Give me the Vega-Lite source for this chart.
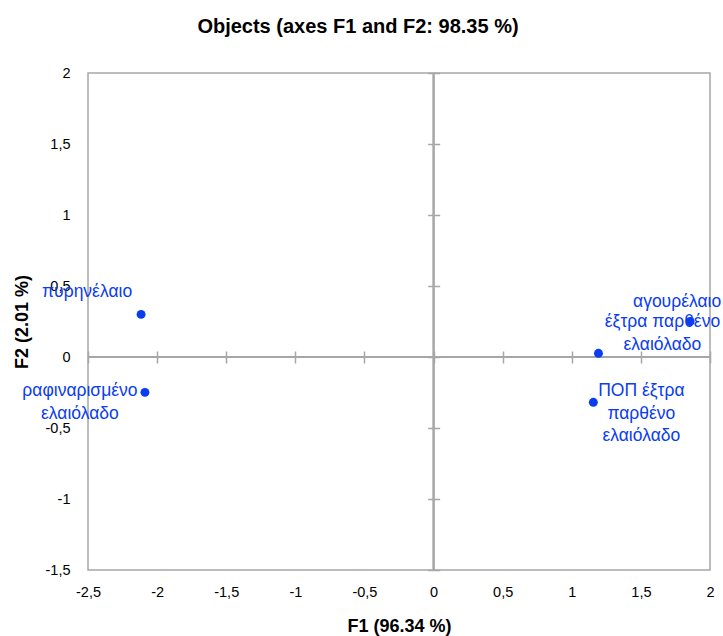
{
  "$schema": "https://vega.github.io/schema/vega-lite/v6.json",
  "autosize": "none",
  "width": 622,
  "height": 497,
  "padding": {"left": 88, "top": 73, "right": 13, "bottom": 66},
  "background": "white",
  "title": {
    "text": "Objects (axes F1 and F2: 98.35 %)",
    "font": "Liberation Sans",
    "fontSize": 20,
    "fontWeight": "bold",
    "color": "#000000",
    "anchor": "middle",
    "frame": "group",
    "dx": -41,
    "baseline": "alphabetic",
    "offset": 12
  },
  "config": {
    "view": {"stroke": "#a6a6a6", "strokeWidth": 1.5},
    "axis": {
      "labelFont": "Liberation Sans",
      "labelFontSize": 14.5,
      "labelColor": "#000000",
      "titleFont": "Liberation Sans",
      "titleFontSize": 18,
      "titleFontWeight": "bold",
      "titleColor": "#000000",
      "grid": false
    }
  },
  "data": {
    "values": [
      {"name": "πυρηνέλαιο", "label": "πυρηνέλαιο", "F1": -2.116, "F2": 0.30},
      {"name": "ραφιναρισμένο ελαιόλαδο", "label": "ραφιναρισμένο\nελαιόλαδο", "F1": -2.088, "F2": -0.249},
      {"name": "αγουρέλαιο", "label": "αγουρέλαιο", "F1": 1.856, "F2": 0.25},
      {"name": "έξτρα παρθένο ελαιόλαδο", "label": "έξτρα παρθένο\nελαιόλαδο", "F1": 1.193, "F2": 0.026},
      {"name": "ΠΟΠ έξτρα παρθένο ελαιόλαδο", "label": "ΠΟΠ έξτρα\nπαρθένο\nελαιόλαδο", "F1": 1.156, "F2": -0.319}
    ]
  },
  "resolve": {"axis": {"x": "independent", "y": "independent"}},
  "layer": [
    {
      "mark": {"type": "rule", "color": "#a6a6a6", "strokeWidth": 1.5},
      "encoding": {
        "x": {
          "datum": 0,
          "type": "quantitative",
          "scale": {"domain": [-2.5, 2], "nice": false, "zero": false},
          "axis": {
            "orient": "top",
            "offset": -290,
            "values": [-2.5, -2, -1.5, -1, -0.5, 0, 0.5, 1, 1.5, 2],
            "labels": false,
            "domain": false,
            "ticks": true,
            "tickSize": 12,
            "tickColor": "#a6a6a6",
            "tickWidth": 1.5,
            "title": null
          }
        }
      }
    },
    {
      "mark": {"type": "rule", "color": "#a6a6a6", "strokeWidth": 1.5},
      "encoding": {
        "y": {
          "datum": 0,
          "type": "quantitative",
          "scale": {"domain": [-1.5, 2], "nice": false, "zero": false},
          "axis": {
            "orient": "right",
            "offset": -282.3,
            "values": [-1.5, -1, -0.5, 0, 0.5, 1, 1.5, 2],
            "labels": false,
            "domain": false,
            "ticks": true,
            "tickSize": 12,
            "tickColor": "#a6a6a6",
            "tickWidth": 1.5,
            "title": null
          }
        }
      }
    },
    {
      "mark": {"type": "circle", "size": 80, "color": "#0a3cf0", "opacity": 1},
      "encoding": {
        "x": {
          "field": "F1",
          "type": "quantitative",
          "scale": {"domain": [-2.5, 2], "nice": false, "zero": false},
          "axis": {
            "orient": "bottom",
            "values": [-2.5, -2, -1.5, -1, -0.5, 0, 0.5, 1, 1.5, 2],
            "labelExpr": "replace(toString(datum.value), '.', ',')",
            "labelFlush": false,
            "ticks": false,
            "domain": false,
            "labelPadding": 15,
            "title": "F1 (96.34 %)",
            "titleX": 311,
            "titleY": 56,
            "titleBaseline": "middle"
          }
        },
        "y": {
          "field": "F2",
          "type": "quantitative",
          "scale": {"domain": [-1.5, 2], "nice": false, "zero": false},
          "axis": {
            "orient": "left",
            "values": [-1.5, -1, -0.5, 0, 0.5, 1, 1.5, 2],
            "labelExpr": "replace(toString(datum.value), '.', ',')",
            "labelFlush": false,
            "ticks": false,
            "domain": false,
            "labelPadding": 18,
            "title": "F2 (2.01 %)",
            "titleAngle": -90,
            "titleX": -66,
            "titleY": 248.5,
            "titleBaseline": "middle",
            "titleAlign": "center"
          }
        }
      }
    },
    {
      "transform": [{"filter": "datum.name === 'πυρηνέλαιο'"}],
      "mark": {"type": "text", "color": "#0a3cf0", "font": "Liberation Sans", "fontSize": 17.5, "align": "center", "baseline": "middle", "lineBreak": "\n", "lineHeight": 22.5, "dx": -54, "dy": -22},
      "encoding": {
        "x": {"field": "F1", "type": "quantitative", "axis": null},
        "y": {"field": "F2", "type": "quantitative", "axis": null},
        "text": {"field": "label"}
      }
    },
    {
      "transform": [{"filter": "datum.name === 'ραφιναρισμένο ελαιόλαδο'"}],
      "mark": {"type": "text", "color": "#0a3cf0", "font": "Liberation Sans", "fontSize": 17.5, "align": "center", "baseline": "middle", "lineBreak": "\n", "lineHeight": 22.5, "dx": -65, "dy": -1},
      "encoding": {
        "x": {"field": "F1", "type": "quantitative", "axis": null},
        "y": {"field": "F2", "type": "quantitative", "axis": null},
        "text": {"field": "label"}
      }
    },
    {
      "transform": [{"filter": "datum.name === 'αγουρέλαιο'"}],
      "mark": {"type": "text", "color": "#0a3cf0", "font": "Liberation Sans", "fontSize": 17.5, "align": "center", "baseline": "middle", "lineBreak": "\n", "lineHeight": 22.5, "dx": -13, "dy": -20},
      "encoding": {
        "x": {"field": "F1", "type": "quantitative", "axis": null},
        "y": {"field": "F2", "type": "quantitative", "axis": null},
        "text": {"field": "label"}
      }
    },
    {
      "transform": [{"filter": "datum.name === 'έξτρα παρθένο ελαιόλαδο'"}],
      "mark": {"type": "text", "color": "#0a3cf0", "font": "Liberation Sans", "fontSize": 17.5, "align": "center", "baseline": "middle", "lineBreak": "\n", "lineHeight": 22.5, "dx": 64, "dy": -31},
      "encoding": {
        "x": {"field": "F1", "type": "quantitative", "axis": null},
        "y": {"field": "F2", "type": "quantitative", "axis": null},
        "text": {"field": "label"}
      }
    },
    {
      "transform": [{"filter": "datum.name === 'ΠΟΠ έξτρα παρθένο ελαιόλαδο'"}],
      "mark": {"type": "text", "color": "#0a3cf0", "font": "Liberation Sans", "fontSize": 17.5, "align": "center", "baseline": "middle", "lineBreak": "\n", "lineHeight": 22.5, "dx": 48, "dy": -11},
      "encoding": {
        "x": {"field": "F1", "type": "quantitative", "axis": null},
        "y": {"field": "F2", "type": "quantitative", "axis": null},
        "text": {"field": "label"}
      }
    }
  ]
}
